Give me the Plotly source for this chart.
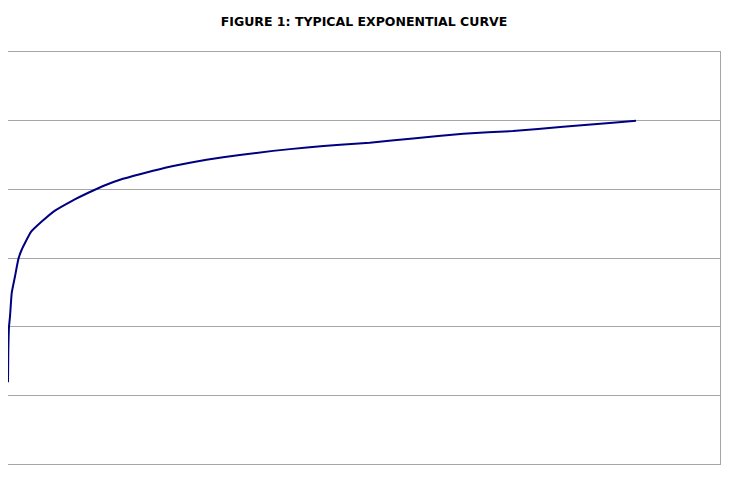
import plotly.graph_objects as go

# Data (x: relative position, y: value on 0-6 scale)
x_vals = [0.0, 0.05, 0.16, 0.32, 0.59, 1.11, 1.64, 2.18, 3.66, 5.37, 7.48, 10.14, 12.79,
          15.45, 17.83, 21.0, 23.1, 26.3, 31.6, 36.9, 42.2, 47.6, 52.9, 57.6, 64.5,
          72.5, 80.4, 88.4, 96.3, 100.0]
y_vals = [1.19, 1.66, 2.0, 2.15, 2.49, 2.73, 2.98, 3.12, 3.38, 3.53, 3.69, 3.83, 3.95,
          4.06, 4.14, 4.22, 4.27, 4.34, 4.43, 4.50, 4.56, 4.61, 4.65, 4.68, 4.74,
          4.81, 4.85, 4.91, 4.97, 5.0]
title_text = "FIGURE 1: TYPICAL EXPONENTIAL CURVE"

fig = go.Figure()
fig.add_trace(go.Scatter(
    x=x_vals, y=y_vals, mode="lines",
    line=dict(color="#000080", width=2, shape="spline", smoothing=0.4),
    hoverinfo="skip", showlegend=False,
))

grey = "#a6a6a6"
W, H = 723, 479  # page body has an 8px margin
fig.update_layout(
    width=W, height=H,
    margin=dict(l=0, r=11, t=44, b=23, pad=0),
    paper_bgcolor="white", plot_bgcolor="white",
    title=dict(text="<b>" + title_text + "</b>", x=0.5, xanchor="center",
               xref="paper",
               y=1 - 14 / H, yanchor="middle",
               font=dict(family="DejaVu Sans", size=12.5, color="#000000")),
    xaxis=dict(range=[0, 712 / 6.28], showgrid=False, zeroline=False,
               showticklabels=False, ticks="", showline=True, mirror=True,
               linecolor=grey, linewidth=1),
    yaxis=dict(range=[0, 6], dtick=1, showgrid=True, gridcolor=grey, gridwidth=1,
               zeroline=False, showticklabels=False, ticks="", showline=True,
               mirror=True, linecolor=grey, linewidth=1),
)

fig.write_html("out.html")
